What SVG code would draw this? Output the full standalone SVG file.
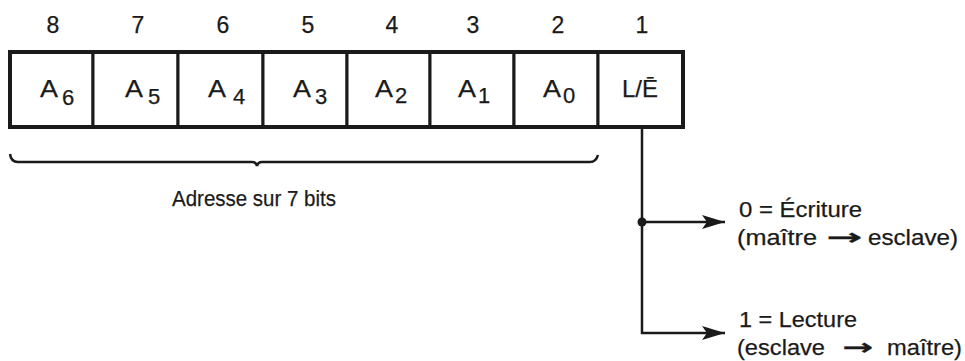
<svg xmlns="http://www.w3.org/2000/svg" width="965" height="361" viewBox="0 0 965 361">
<style>
text{font-family:"Liberation Sans",Arial,sans-serif;fill:#1a1a1a;stroke:#1a1a1a;stroke-width:0.25}
.num{font-size:23px;text-anchor:middle}
.lab{font-size:24px}
.sub{font-size:22px}
.desc{font-size:22.5px}
.arr{font-family:"DejaVu Sans",sans-serif;font-weight:bold}
.cell{fill:#fff;stroke:#1a1a1a;stroke-width:3}
.line{fill:none;stroke:#1a1a1a;stroke-width:2.5}
</style>
<defs>
<marker id="ah" markerUnits="userSpaceOnUse" markerWidth="24" markerHeight="16" refX="23" refY="7" orient="auto">
<path d="M0,0 L23,7 L0,14 L5,7 z" fill="#1a1a1a"/>
</marker>
</defs>
<rect width="965" height="361" fill="#fff"/>
<g id="numbers">
<text class="num" x="53" y="33">8</text>
<text class="num" x="138" y="33">7</text>
<text class="num" x="223" y="33">6</text>
<text class="num" x="308" y="33">5</text>
<text class="num" x="392" y="33">4</text>
<text class="num" x="473" y="33">3</text>
<text class="num" x="558" y="33">2</text>
<text class="num" x="642" y="33">1</text>
</g>
<g id="bit8"><rect class="cell" x="10" y="52" width="83" height="75"/><text class="lab" x="40" y="97" textLength="18" lengthAdjust="spacingAndGlyphs">A</text><text class="sub" x="62" y="105">6</text></g>
<g id="bit7"><rect class="cell" x="93" y="52" width="85" height="75"/><text class="lab" x="125" y="97" textLength="18" lengthAdjust="spacingAndGlyphs">A</text><text class="sub" x="148" y="104">5</text></g>
<g id="bit6"><rect class="cell" x="178" y="52" width="85" height="75"/><text class="lab" x="208" y="97" textLength="18" lengthAdjust="spacingAndGlyphs">A</text><text class="sub" x="233" y="104">4</text></g>
<g id="bit5"><rect class="cell" x="263" y="52" width="84" height="75"/><text class="lab" x="293" y="97" textLength="18" lengthAdjust="spacingAndGlyphs">A</text><text class="sub" x="315" y="104">3</text></g>
<g id="bit4"><rect class="cell" x="347" y="52" width="83" height="75"/><text class="lab" x="375" y="97" textLength="18" lengthAdjust="spacingAndGlyphs">A</text><text class="sub" x="395" y="103">2</text></g>
<g id="bit3"><rect class="cell" x="430" y="52" width="84" height="75"/><text class="lab" x="458" y="97" textLength="18" lengthAdjust="spacingAndGlyphs">A</text><text class="sub" x="478" y="103">1</text></g>
<g id="bit2"><rect class="cell" x="514" y="52" width="84" height="75"/><text class="lab" x="543" y="97" textLength="18" lengthAdjust="spacingAndGlyphs">A</text><text class="sub" x="563" y="103">0</text></g>
<g id="bit1"><rect class="cell" x="598" y="52" width="85" height="75"/><text class="lab" x="622" y="97" textLength="36" lengthAdjust="spacingAndGlyphs">L/Ē</text></g>
<rect x="10" y="52" width="673" height="75" fill="none" stroke="#1a1a1a" stroke-width="4"/>
<g id="brace">
<path class="line" d="M10,154 Q11,162 18,162 L252,162 Q256,162 257,166 Q258,162 262,162 L590,162 Q596,162 598,155"/>
<text class="desc" x="254" y="206" text-anchor="middle" textLength="164" lengthAdjust="spacingAndGlyphs">Adresse sur 7 bits</text>
</g>
<g id="connectors">
<path class="line" d="M642,127 L642,333 L725,333" marker-end="url(#ah)"/>
<path class="line" d="M642,222 L725,222" marker-end="url(#ah)"/>
<circle cx="642" cy="222" r="4.5" fill="#1a1a1a"/>
</g>
<g id="write">
<text class="desc" x="739" y="217" textLength="123" lengthAdjust="spacingAndGlyphs">0 = Écriture</text>
<text class="desc" y="245"><tspan x="737" textLength="80" lengthAdjust="spacingAndGlyphs">(maître</tspan><tspan class="arr" x="826" textLength="36" lengthAdjust="spacingAndGlyphs">→</tspan><tspan x="868" textLength="90" lengthAdjust="spacingAndGlyphs">esclave)</tspan></text>
</g>
<g id="read">
<text class="desc" x="739" y="327" textLength="118" lengthAdjust="spacingAndGlyphs">1 = Lecture</text>
<text class="desc" y="355"><tspan x="737" textLength="88" lengthAdjust="spacingAndGlyphs">(esclave</tspan><tspan class="arr" x="842" textLength="31" lengthAdjust="spacingAndGlyphs">→</tspan><tspan x="887" textLength="75" lengthAdjust="spacingAndGlyphs">maître)</tspan></text>
</g>
</svg>
